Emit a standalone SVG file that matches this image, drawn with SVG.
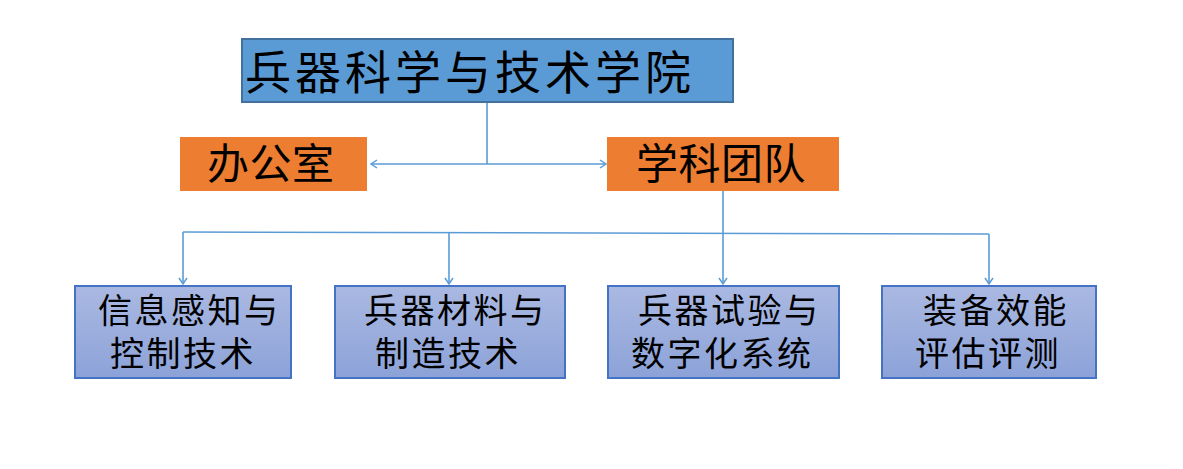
<svg xmlns="http://www.w3.org/2000/svg" width="1183" height="469" viewBox="0 0 1183 469">
<defs>
<linearGradient id="g" x1="0" y1="0" x2="0" y2="1">
<stop offset="0" stop-color="#AAB9E2"/>
<stop offset="1" stop-color="#8CA2D8"/>
</linearGradient>
<marker id="ah" markerWidth="10" markerHeight="10" refX="8" refY="5" orient="auto-start-reverse" markerUnits="userSpaceOnUse">
<polyline points="2,1 8,5 2,9" fill="none" stroke="#5B9BD5" stroke-width="1.5"/>
</marker>
<style>
text{font-family:"Noto Sans CJK SC","Liberation Serif",serif;fill:#000;}
.top{fill:#5B9BD5;stroke:#41719C;stroke-width:2;}
.org{fill:#ED7D31;}
.sub{fill:url(#g);stroke:#4472C4;stroke-width:2;}
.c{fill:none;stroke:#5B9BD5;stroke-width:1.6;}
.t1{font-size:46px;letter-spacing:4px;}
.t2{font-size:42px;letter-spacing:0.5px;}
.t3{font-size:34px;letter-spacing:2.5px;}
</style>
</defs>
<g id="connectors">
<polyline class="c" points="487,102 487,164"/>
<line class="c" x1="371" y1="164" x2="606" y2="164" marker-start="url(#ah)" marker-end="url(#ah)"/>
<polyline class="c" points="723,191 723,284" marker-end="url(#ah)"/>
<polyline class="c" points="183,232 989,234"/>
<polyline class="c" points="183,232 183,284" marker-end="url(#ah)"/>
<polyline class="c" points="449,232 449,284" marker-end="url(#ah)"/>
<polyline class="c" points="989,234 989,284" marker-end="url(#ah)"/>
</g>
<g id="node-college">
<rect class="top" x="242" y="39" width="491" height="63"/>
<text class="t1" x="245" y="89">兵器科学与技术学院</text>
</g>
<g id="node-office">
<rect class="org" x="180" y="137" width="187" height="54"/>
<text class="t2" x="207" y="179">办公室</text>
</g>
<g id="node-team">
<rect class="org" x="607" y="137" width="232" height="54"/>
<text class="t2" x="636" y="179">学科团队</text>
</g>
<g id="node-sense">
<rect class="sub" x="75" y="286" width="216" height="92"/>
<text class="t3"><tspan x="98" y="323">信息感知与</tspan><tspan x="110" y="366">控制技术</tspan></text>
</g>
<g id="node-material">
<rect class="sub" x="335" y="286" width="230" height="92"/>
<text class="t3"><tspan x="364" y="323">兵器材料与</tspan><tspan x="375" y="366">制造技术</tspan></text>
</g>
<g id="node-test">
<rect class="sub" x="608" y="286" width="231" height="92"/>
<text class="t3"><tspan x="638" y="323">兵器试验与</tspan><tspan x="631" y="366">数字化系统</tspan></text>
</g>
<g id="node-eval">
<rect class="sub" x="882" y="286" width="214" height="92"/>
<text class="t3"><tspan x="923" y="323">装备效能</tspan><tspan x="915" y="366">评估评测</tspan></text>
</g>
</svg>
